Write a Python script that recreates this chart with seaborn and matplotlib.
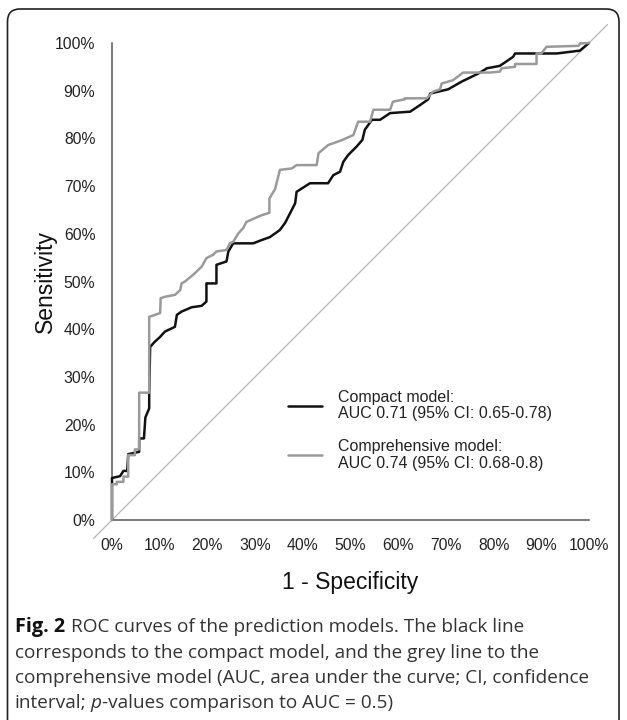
import numpy as np
import pandas as pd
import seaborn as sns
import matplotlib.pyplot as plt
from matplotlib.patches import FancyBboxPatch

# ROC points (percent)
compact_fpr = [0, 0, 1.7, 2.4, 3.2, 3.4, 5.7, 5.7, 6.7, 7.0, 7.8, 7.8, 8.0, 9.0, 10.1,
               11.1, 13.2, 13.6, 14.6, 16.7, 18.8, 19.8, 19.8, 21.9, 21.9, 24.0, 24.4,
               25.4, 26.6, 29.6, 31.4, 33.1, 35.2, 36.3, 38.4, 38.7, 41.5, 45.3, 46.4,
               47.8, 48.5, 49.5, 50.6, 51.3, 52.5, 53.0, 54.5, 56.2, 58.3, 62.5, 64.6,
               66.3, 66.7, 70.5, 73.3, 76.8, 78.6, 81.3, 84.1, 84.5, 89.4, 93.2, 98.1, 100]
compact_tpr = [0, 8.8, 9.2, 10.3, 10.3, 13.8, 14.3, 17.1, 17.1, 21.5, 23.4, 26.6, 36.3,
               37.4, 38.4, 39.5, 40.5, 43.0, 43.7, 44.6, 44.9, 45.8, 49.6, 49.6, 53.5,
               54.2, 56.3, 58.0, 58.0, 58.0, 58.7, 59.3, 60.8, 62.3, 66.4, 68.8, 70.6,
               70.6, 72.3, 73.0, 75.1, 76.5, 77.6, 78.3, 79.7, 81.8, 83.9, 83.9, 85.3,
               85.6, 87.0, 88.2, 89.4, 90.3, 91.9, 93.6, 94.7, 95.2, 97.1, 97.8, 97.8,
               97.8, 98.4, 100]

compre_fpr = [0, 0, 1.0, 1.0, 2.4, 2.4, 3.4, 3.4, 4.8, 4.8, 5.7, 5.7, 7.8, 7.8, 9.0,
              10.1, 10.2, 11.1, 13.2, 14.3, 14.6, 15.3, 17.0, 18.8, 19.8, 21.2, 21.9,
              24.0, 24.7, 25.4, 26.5, 27.5, 28.2, 30.0, 31.4, 33.0, 33.0, 34.2, 35.2,
              37.7, 38.7, 42.9, 43.3, 45.3, 48.1, 50.6, 51.6, 54.1, 54.8, 58.3, 58.9,
              61.4, 61.4, 66.0, 67.3, 68.8, 69.1, 71.5, 73.6, 79.2, 81.3, 81.7, 84.5,
              84.5, 89.0, 89.0, 90.0, 91.1, 97.8, 98.1, 100]
compre_tpr = [0, 7.5, 7.5, 8.0, 8.0, 9.1, 9.1, 13.6, 13.6, 14.8, 14.8, 26.7, 26.7, 42.6,
              43.0, 43.4, 46.5, 46.8, 47.2, 48.2, 49.6, 50.0, 51.4, 53.1, 54.9, 55.6,
              56.3, 56.6, 58.0, 58.3, 60.1, 61.2, 62.5, 63.3, 63.9, 64.4, 67.4, 69.4,
              73.4, 73.7, 74.4, 74.4, 76.9, 78.6, 79.6, 80.7, 83.5, 83.5, 86.0, 86.0,
              87.7, 88.2, 88.4, 88.4, 89.8, 90.3, 91.5, 92.2, 93.8, 93.8, 94.0, 94.7,
              95.0, 95.6, 95.6, 97.8, 97.8, 99.2, 99.4, 99.9, 100]

labels = ["Compact model:\nAUC 0.71 (95% CI: 0.65-0.78)",
          "Comprehensive model:\nAUC 0.74 (95% CI: 0.68-0.8)"]
ticks = list(range(0, 101, 10))
tick_labels = [f"{t}%" for t in ticks]

sns.set_style("white")
plt.rcParams['font.family'] = ['Liberation Sans', 'DejaVu Sans']

W, H = 627, 720
fig = plt.figure(figsize=(W / 100, H / 100), dpi=100)
# axes: data -4..104 on both axes
ax = fig.add_axes([92.9 / W, 1 - 539.1 / H, 515.2 / W, 515.2 / H])

ax.axline((0, 0), (100, 100), color="#b4b4b4", lw=0.9, zorder=1)

df_c = pd.DataFrame({"fpr": compact_fpr, "tpr": compact_tpr})
df_g = pd.DataFrame({"fpr": compre_fpr, "tpr": compre_tpr})
sns.lineplot(data=df_c, x="fpr", y="tpr", sort=False, estimator=None, ax=ax,
             color="#111111", lw=1.8, label=labels[0], zorder=3)
sns.lineplot(data=df_g, x="fpr", y="tpr", sort=False, estimator=None, ax=ax,
             color="#9a9a9a", lw=1.8, label=labels[1], zorder=4)

ax.set_xlim(-4, 104)
ax.set_ylim(-4, 104)
for s in ["top", "right"]:
    ax.spines[s].set_visible(False)
ax.spines["left"].set_position(("data", 0))
ax.spines["bottom"].set_position(("data", 0))
ax.spines["left"].set_bounds(0, 100)
ax.spines["bottom"].set_bounds(0, 100)
for s in ["left", "bottom"]:
    ax.spines[s].set_color("#555555")
    ax.spines[s].set_linewidth(1.1)

ax.set_xticks(ticks)
ax.set_xticklabels(tick_labels)
ax.set_yticks(ticks)
ax.set_yticklabels(tick_labels)
ax.tick_params(axis="both", direction="out", length=5, width=1.1, color="#555555",
               labelsize=11.3, labelcolor="#222222")
ax.tick_params(axis="x", pad=8)
ax.tick_params(axis="y", pad=7)

ax.set_xlabel("1 - Specificity", fontsize=16.5, color="#111111")
ax.set_ylabel("Sensitivity", fontsize=16.5, color="#111111")
ax.xaxis.label.set_va("center")
ax.yaxis.label.set_va("center")
ax.xaxis.set_label_coords(0.5, -0.0852)
ax.yaxis.set_label_coords(-0.093, 0.5)

leg = ax.legend(loc="upper left", bbox_to_anchor=(36.9, 27.3), bbox_transform=ax.transData,
                frameon=False, fontsize=11.5, handlelength=2.1, handletextpad=1.0,
                labelspacing=1.15, borderpad=0, borderaxespad=0)
for t in leg.get_texts():
    t.set_linespacing(1.1)
    t.set_color("#222222")

# caption
cap_font = ['Open Sans', 'DejaVu Sans']
cap_size = 13.7
cap_color = "#333333"
x0 = 15 / W
line_y = [626.7, 653.3, 678.3, 703.3]
t1 = fig.text(x0, 1 - line_y[0] / H, "Fig. 2", family=cap_font, size=cap_size + 0.6,
              weight="bold", va="center", color="#111111")
ax.annotate("ROC curves of the prediction models. The black line", xy=(1, 0.5),
            xycoords=t1, xytext=(4, 0), textcoords="offset points", va="center",
            family=cap_font, size=cap_size, color=cap_color, annotation_clip=False)
fig.text(x0, 1 - line_y[1] / H, "corresponds to the compact model, and the grey line to the",
         family=cap_font, size=cap_size, va="center", color=cap_color)
fig.text(x0, 1 - line_y[2] / H,
         "comprehensive model (AUC, area under the curve; CI, confidence",
         family=cap_font, size=cap_size, va="center", color=cap_color)
t4 = fig.text(x0, 1 - line_y[3] / H, "interval;", family=cap_font, size=cap_size,
              va="center", color=cap_color)
t5 = ax.annotate("p", xy=(1, 0.5), xycoords=t4, xytext=(2.8, 0), textcoords="offset points",
                 va="center", family=cap_font, size=cap_size, style="italic",
                 color=cap_color, annotation_clip=False)
ax.annotate("-values comparison to AUC = 0.5)", xy=(1, 0.5), xycoords=t5, xytext=(0.3, 0),
            textcoords="offset points", va="center", family=cap_font, size=cap_size,
            color=cap_color, annotation_clip=False)

# rounded frame around the figure (open at the bottom)
box = FancyBboxPatch((7.5 / W, -0.05), (619 - 7.5) / W, (711 - H * -0.05) / H + 0.0,
                     boxstyle="round,pad=0,rounding_size=0.02", transform=fig.transFigure,
                     fill=False, ec="#222222", lw=1.2, mutation_aspect=W / H)
fig.patches.append(box)

fig.savefig("out.png", dpi=100)
